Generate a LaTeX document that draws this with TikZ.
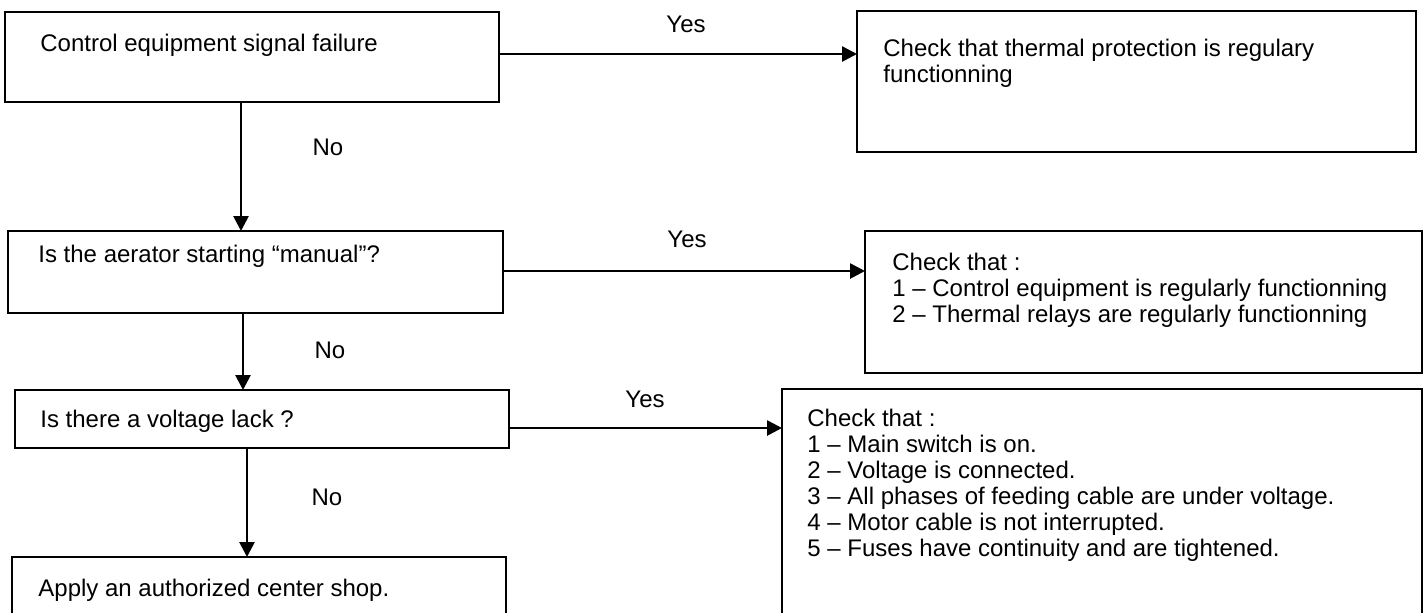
\documentclass[tikz,border=0pt]{standalone}
\usepackage{fontspec}
\setmainfont{Liberation Sans}
\usetikzlibrary{arrows.meta}
\newcommand\mlines[1]{\begin{tabular}[t]{@{}l@{}}#1\end{tabular}}
\begin{document}
\begin{tikzpicture}[x=0.5pt,y=-0.5pt,
  box/.style={draw,line width=1.1pt,rectangle,inner sep=0pt,outer sep=0pt,anchor=north west},
  txt/.style={anchor=base west,inner sep=0pt,font=\fontsize{12pt}{13pt}\selectfont},
  lbl/.style={inner sep=0pt,font=\fontsize{12pt}{14pt}\selectfont},
  arr/.style={line width=1.35pt,-{Triangle[length=7.5pt,width=7.5pt]}}]
\useasboundingbox (0,0) rectangle (1425,612);
\clip (0,0) rectangle (1425,612);
% boxes
\node[box,minimum width=247pt,minimum height=45pt] (b1) at (5,12) {};
\node[box,minimum width=279.5pt,minimum height=70.5pt] (b2) at (857,11) {};
\node[box,minimum width=247.5pt,minimum height=41pt] (b3) at (8,231) {};
\node[box,minimum width=278.5pt,minimum height=71pt] (b4) at (865,231) {};
\node[box,minimum width=247pt,minimum height=29pt] (b5) at (15,390) {};
\node[box,minimum width=320pt,minimum height=120pt] (b6) at (782,389) {};
\node[box,minimum width=247pt,minimum height=40pt] (b7) at (12,557) {};
% texts
\node[txt] (t1) at (40,51) {Control equipment signal failure};
\node[txt] (t2) at (883,56) {\mlines{Check that thermal protection is regulary\\functionning}};
\node[txt] (t3) at (38,262) {Is the aerator starting “manual”?};
\node[txt] (t4) at (892,270) {\mlines{Check that :\\1 – Control equipment is regularly functionning\\2 – Thermal relays are regularly functionning}};
\node[txt] (t5) at (40,427) {Is there a voltage lack ?};
\node[txt] (t6) at (807,426) {\mlines{Check that :\\1 – Main switch is on.\\2 – Voltage is connected.\\3 – All phases of feeding cable are under voltage.\\4 – Motor cable is not interrupted.\\5 – Fuses have continuity and are tightened.}};
\node[txt] (t7) at (38,596) {Apply an authorized center shop.};
% labels
\node[lbl] (y1) at (686,24) {Yes};
\node[lbl] (n1) at (328,147) {No};
\node[lbl] (y2) at (687,239) {Yes};
\node[lbl] (n2) at (330,350) {No};
\node[lbl] (y3) at (645,399) {Yes};
\node[lbl] (n3) at (327,497) {No};
% connectors
\draw[arr] (b1.east |- 0,54) -- (b2.west |- 0,54);
\draw[arr] (b3.east |- 0,271) -- (b4.west |- 0,271);
\draw[arr] (b5.east |- 0,428) -- (b6.west |- 0,428);
\draw[arr] (b1.south -| 241,0) -- (b3.north -| 241,0);
\draw[arr] (b3.south -| 243,0) -- (b5.north -| 243,0);
\draw[arr] (b5.south -| 247,0) -- (b7.north -| 247,0);
\end{tikzpicture}
\end{document}
